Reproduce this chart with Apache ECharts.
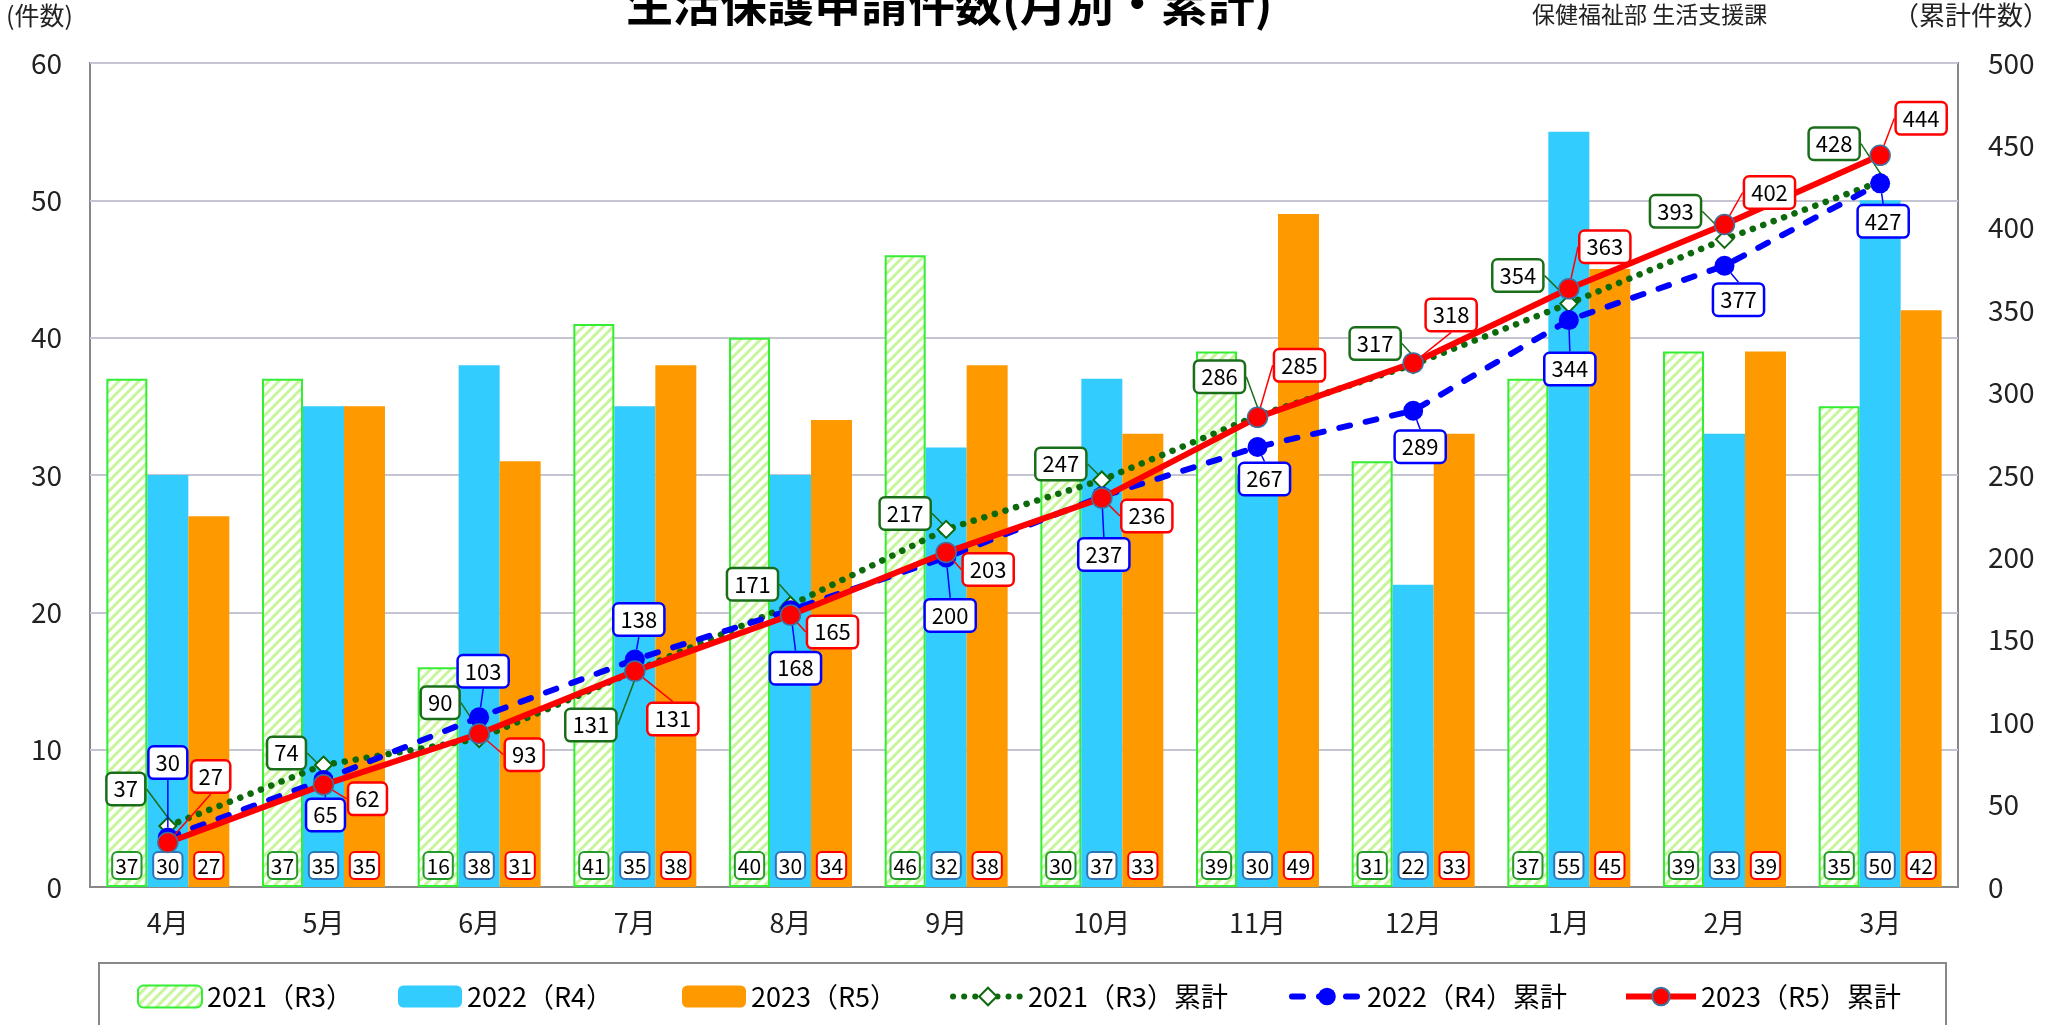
<!DOCTYPE html>
<html>
<head>
<meta charset="utf-8">
<script src="https://cdn.jsdelivr.net/npm/echarts@6/dist/echarts.min.js"></script>
<style>
html,body{margin:0;padding:0;background:#fff;}
#main{width:2069px;height:1025px;}
</style>
</head>
<body>
<div id="main"></div>
<script>
// データ
var months = ['4月','5月','6月','7月','8月','9月','10月','11月','12月','1月','2月','3月'];
var r3 = [37,37,16,41,40,46,30,39,31,37,39,35];
var r4 = [30,35,38,35,30,32,37,30,22,55,33,50];
var r5 = [27,35,31,38,34,38,33,49,33,45,39,42];
var r3Sum = [37,74,90,131,171,217,247,286,317,354,393,428];
var r4Sum = [30,65,103,138,168,200,237,267,289,344,377,427];
var r5Sum = [27,62,93,131,165,203,236,285,318,363,402,444];
var names = ['2021（R3）', '2022（R4）', '2023（R5）', '2021（R3）累計', '2022（R4）累計', '2023（R5）累計'];

// 累計ラベルのずらし量 (px)
var off3 = [[-42,-37],[-37,-12],[-39,-36],[-44,54],[-38,-21],[-41,-16],[-41,-16],[-38,-39],[-38,-21],[-51,-28],[-49,-28],[-46,-38]];
var off4 = [[0,-75],[2,35],[4,-46],[4,-40],[5,58],[4,58],[2,58],[7,32],[7,36],[1,49],[14,34],[3,38]];
var off5 = [[43,-66],[44,14],[45,21],[38,48],[42,17],[42,17],[45,18],[42,-52],[38,-48],[36,-42],[45,-32],[41,-37]];
// 凡例の位置
var legendLeft = [132, 393, 677, 945, 1284, 1618];

var FONT = 'Noto Sans CJK JP';

// 斜線パターン
var pc = document.createElement('canvas');
pc.width = 10; pc.height = 10;
var g = pc.getContext('2d');
g.fillStyle = '#fff'; g.fillRect(0, 0, 10, 10);
g.strokeStyle = '#c6f59a'; g.lineWidth = 3;
g.beginPath();
g.moveTo(-5, 5); g.lineTo(5, -5);
g.moveTo(0, 10); g.lineTo(10, 0);
g.moveTo(5, 15); g.lineTo(15, 5);
g.stroke();

var chart = echarts.init(document.getElementById('main'));

function barLabel(border) {
  return {
    show: true, position: 'insideBottom', distance: 9,
    color: '#000', fontSize: 21, fontFamily: FONT,
    backgroundColor: '#fff', borderColor: border, borderWidth: 2,
    borderRadius: 4, padding: [3, 2, 1, 2]
  };
}
function lineLabel(border) {
  return {
    show: true, position: 'inside',
    color: '#000', fontSize: 22, fontFamily: FONT,
    backgroundColor: '#fff', borderColor: border, borderWidth: 2.5,
    borderRadius: 4, padding: [5, 6, 3, 6]
  };
}
function layoutBy(off) {
  return function (p) {
    var o = off[p.dataIndex];
    return { dx: o[0], dy: o[1] };
  };
}

var legends = names.map(function (n, i) {
  var lg = {
    left: legendLeft[i], top: 978, itemGap: 0,
    itemWidth: i < 3 ? 64 : 70, itemHeight: 22,
    textStyle: { fontSize: 27, color: '#000', fontFamily: FONT },
    data: [n]
  };
  if (i >= 3) lg.lineStyle = { width: 6 };
  return lg;
});

var option = {
  animation: false,
  textStyle: { fontFamily: FONT },
  grid: { left: 90, right: 111, top: 63, bottom: 138, show: true, borderColor: '#888', borderWidth: 2 },
  legend: legends,
  xAxis: {
    type: 'category', data: months,
    axisLine: { lineStyle: { color: '#888', width: 2 } },
    axisTick: { show: false },
    axisLabel: { fontSize: 27, margin: 22, color: '#222', fontFamily: FONT }
  },
  yAxis: [{
    type: 'value', min: 0, max: 60, interval: 10,
    axisLine: { show: false }, axisTick: { show: false },
    axisLabel: { fontSize: 28, margin: 28, color: '#222', fontFamily: FONT },
    splitLine: { lineStyle: { color: '#c4c4d2', width: 2 } }
  }, {
    type: 'value', min: 0, max: 500, interval: 50, position: 'right',
    axisLine: { show: false }, axisTick: { show: false },
    axisLabel: { fontSize: 28, margin: 30, color: '#222', fontFamily: FONT },
    splitLine: { show: false }
  }],
  graphic: [
    { type: 'text', left: 948 - 322, top: -20, style: { text: '生活保護申請件数(月別・累計)', fontSize: 47, fontWeight: 'bold', fontFamily: FONT, fill: '#000' } },
    { type: 'text', left: 6, top: 3, style: { text: '(件数)', fontSize: 25, fontFamily: FONT, fill: '#222' } },
    { type: 'text', left: 1532, top: 3, style: { text: '保健福祉部 生活支援課', fontSize: 23, fontFamily: FONT, fill: '#222' } },
    { type: 'text', left: 1893, top: 2, style: { text: '（累計件数）', fontSize: 26, fontFamily: FONT, fill: '#222' } },
    { type: 'rect', shape: { x: 99, y: 963, width: 1847, height: 100 }, style: { fill: 'none', stroke: '#888', lineWidth: 2 } }
  ],
  series: [
    {
      name: names[0], type: 'bar', data: r3, barGap: '0%', barCategoryGap: '21%',
      itemStyle: { color: { image: pc, repeat: 'repeat' }, borderColor: '#33ee33', borderWidth: 2 },
      label: barLabel('#22992a')
    },
    {
      name: names[1], type: 'bar', data: r4,
      itemStyle: { color: '#33ccff' },
      label: barLabel('#2e75b6')
    },
    {
      name: names[2], type: 'bar', data: r5,
      itemStyle: { color: '#ff9900' },
      label: barLabel('#ff0000')
    },
    {
      name: names[3], type: 'line', yAxisIndex: 1, data: r3Sum, z: 5,
      symbol: 'diamond', symbolSize: 17,
      itemStyle: { color: '#fff', borderColor: '#0c6a0c', borderWidth: 2 },
      lineStyle: { color: '#0c6a0c', width: 6.5, type: [0.1, 11], cap: 'round' },
      label: lineLabel('#1a6e1a'),
      labelLine: { show: true, lineStyle: { color: '#1a6e1a', width: 1.5 } },
      labelLayout: layoutBy(off3)
    },
    {
      name: names[4], type: 'line', yAxisIndex: 1, data: r4Sum, z: 6,
      symbol: 'circle', symbolSize: 20,
      itemStyle: { color: '#0000ff' },
      lineStyle: { color: '#0000ff', width: 6, type: [11, 16], cap: 'round' },
      label: lineLabel('#0000ff'),
      labelLine: { show: true, lineStyle: { color: '#0000ff', width: 1.5 } },
      labelLayout: layoutBy(off4)
    },
    {
      name: names[5], type: 'line', yAxisIndex: 1, data: r5Sum, z: 7,
      symbol: 'circle', symbolSize: 20,
      itemStyle: { color: '#ff0000', borderColor: '#41719c', borderWidth: 1.5 },
      lineStyle: { color: '#ff0000', width: 6 },
      label: lineLabel('#ff0000'),
      labelLine: { show: true, lineStyle: { color: '#ff0000', width: 1.5 } },
      labelLayout: layoutBy(off5)
    }
  ]
};
chart.setOption(option);
</script>
</body>
</html>
